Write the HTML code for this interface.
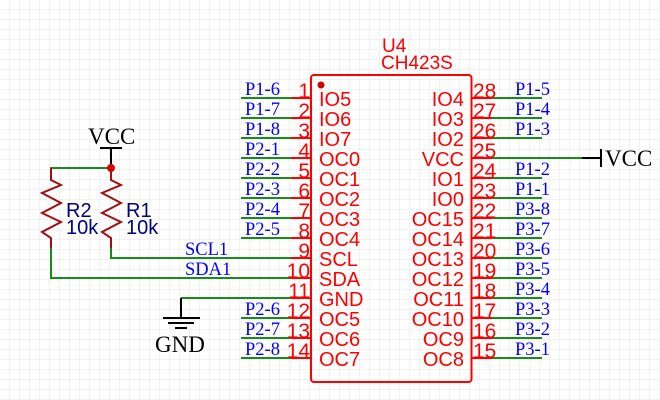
<!DOCTYPE html>
<html><head><meta charset="utf-8"><style>
html,body{margin:0;padding:0;background:#fff;}
svg{display:block;}
</style></head><body>
<svg width="660" height="400" xmlns="http://www.w3.org/2000/svg">
<defs>
<pattern id="g" width="10" height="10" patternUnits="userSpaceOnUse">
<path d="M10 0V10M0 10H10" stroke="#e6e6e6" stroke-width="1" fill="none"/>
</pattern>
</defs>
<rect width="660" height="400" fill="url(#g)"/>
<g font-family="Liberation Sans, sans-serif" fill="#f00">
<text x="382" y="52" font-size="19">U4</text>
<text x="381" y="69" font-size="19">CH423S</text>
</g>
<rect x="311" y="75" width="160.5" height="307" rx="3" fill="none" stroke="#f00" stroke-width="2"/>
<circle cx="321" cy="85" r="3.5" fill="#c00"/>
<g>
<g stroke="#f00" stroke-width="2">
<line x1="291" y1="98" x2="311" y2="98"/><line x1="291" y1="118" x2="311" y2="118"/><line x1="291" y1="138" x2="311" y2="138"/><line x1="291" y1="158" x2="311" y2="158"/><line x1="291" y1="178" x2="311" y2="178"/><line x1="291" y1="198" x2="311" y2="198"/><line x1="291" y1="218" x2="311" y2="218"/><line x1="291" y1="238" x2="311" y2="238"/><line x1="291" y1="258" x2="311" y2="258"/><line x1="291" y1="278" x2="311" y2="278"/><line x1="291" y1="298" x2="311" y2="298"/><line x1="291" y1="318" x2="311" y2="318"/><line x1="291" y1="338" x2="311" y2="338"/><line x1="291" y1="358" x2="311" y2="358"/>
<line x1="471" y1="98" x2="492" y2="98"/><line x1="471" y1="118" x2="492" y2="118"/><line x1="471" y1="138" x2="492" y2="138"/><line x1="471" y1="158" x2="492" y2="158"/><line x1="471" y1="178" x2="492" y2="178"/><line x1="471" y1="198" x2="492" y2="198"/><line x1="471" y1="218" x2="492" y2="218"/><line x1="471" y1="238" x2="492" y2="238"/><line x1="471" y1="258" x2="492" y2="258"/><line x1="471" y1="278" x2="492" y2="278"/><line x1="471" y1="298" x2="492" y2="298"/><line x1="471" y1="318" x2="492" y2="318"/><line x1="471" y1="338" x2="492" y2="338"/><line x1="471" y1="358" x2="492" y2="358"/>
</g>
<g stroke="#1a8a1a" stroke-width="2" fill="none">
<line x1="241" y1="98" x2="291" y2="98"/><line x1="241" y1="118" x2="291" y2="118"/><line x1="241" y1="138" x2="291" y2="138"/><line x1="241" y1="158" x2="291" y2="158"/><line x1="241" y1="178" x2="291" y2="178"/><line x1="241" y1="198" x2="291" y2="198"/><line x1="241" y1="218" x2="291" y2="218"/><line x1="241" y1="238" x2="291" y2="238"/>
<line x1="241" y1="318" x2="291" y2="318"/><line x1="241" y1="338" x2="291" y2="338"/><line x1="241" y1="358" x2="291" y2="358"/>
<polyline points="111,248 111,258 291,258"/>
<polyline points="51,248 51,278 291,278"/>
<polyline points="181,298 291,298"/>
<polyline points="51,180 51,168 111,168"/>
<line x1="492" y1="98" x2="542" y2="98"/><line x1="492" y1="118" x2="542" y2="118"/><line x1="492" y1="138" x2="542" y2="138"/><line x1="492" y1="158" x2="582" y2="158"/><line x1="492" y1="178" x2="542" y2="178"/><line x1="492" y1="198" x2="542" y2="198"/><line x1="492" y1="218" x2="542" y2="218"/><line x1="492" y1="238" x2="542" y2="238"/><line x1="492" y1="258" x2="542" y2="258"/><line x1="492" y1="278" x2="542" y2="278"/><line x1="492" y1="298" x2="542" y2="298"/><line x1="492" y1="318" x2="542" y2="318"/><line x1="492" y1="338" x2="542" y2="338"/><line x1="492" y1="358" x2="542" y2="358"/>
</g>
</g>
<g stroke="#a01010" stroke-width="2" fill="none">
<polyline points="51,168 51,180 61,185 42,193 61,203 42,213 61,222 42,232 51,238 51,248"/>
<polyline points="111,168 111,180 121,185 102,193 121,203 102,213 121,222 102,232 111,238 111,248"/>
</g>
<g font-family="Liberation Sans, sans-serif" font-size="20" fill="#000080">
<text x="66" y="217">R2</text><text x="66" y="234">10k</text>
<text x="126" y="217">R1</text><text x="126" y="234">10k</text>
</g>
<g stroke="#000" stroke-width="2">
<line x1="111" y1="148" x2="111" y2="168"/>
<line x1="100" y1="148" x2="122" y2="148"/>
<line x1="582" y1="158" x2="601" y2="158"/>
<line x1="601" y1="149" x2="601" y2="167"/>
<line x1="181" y1="298" x2="181" y2="318"/>
<line x1="163" y1="318" x2="200" y2="318"/>
<line x1="168" y1="323" x2="194" y2="323"/>
<line x1="175" y1="328" x2="187" y2="328"/>
</g>
<circle cx="111" cy="168" r="4" fill="#d00"/>
<g font-family="Liberation Serif, serif" font-size="23" fill="#000">
<text x="88" y="144">VCC</text>
<text x="605" y="166">VCC</text>
<text x="155" y="352">GND</text>
</g>
<g font-family="Liberation Serif, serif" font-size="18.5" fill="#0000ff">
<text x="245" y="95">P1-6</text><text x="245" y="115">P1-7</text><text x="245" y="135">P1-8</text><text x="245" y="155">P2-1</text><text x="245" y="175">P2-2</text><text x="245" y="195">P2-3</text><text x="245" y="215">P2-4</text><text x="245" y="235">P2-5</text>
<text x="245" y="315">P2-6</text><text x="245" y="335">P2-7</text><text x="245" y="355">P2-8</text>
<text x="185" y="255">SCL1</text><text x="185" y="275">SDA1</text>
<text x="515" y="95">P1-5</text><text x="515" y="115">P1-4</text><text x="515" y="135">P1-3</text><text x="515" y="175">P1-2</text><text x="515" y="195">P1-1</text><text x="515" y="215">P3-8</text><text x="515" y="235">P3-7</text><text x="515" y="255">P3-6</text><text x="515" y="275">P3-5</text><text x="515" y="295">P3-4</text><text x="515" y="315">P3-3</text><text x="515" y="335">P3-2</text><text x="515" y="355">P3-1</text>
</g>
<g font-family="Liberation Sans, sans-serif" font-size="21" fill="#f00" text-anchor="end">
<text x="310" y="98">1</text><text x="310" y="118">2</text><text x="310" y="138">3</text><text x="310" y="158">4</text><text x="310" y="178">5</text><text x="310" y="198">6</text><text x="310" y="218">7</text><text x="310" y="238">8</text><text x="310" y="258">9</text><text x="310" y="278">10</text><text x="310" y="298">11</text><text x="310" y="318">12</text><text x="310" y="338">13</text><text x="310" y="358">14</text>
</g>
<g font-family="Liberation Sans, sans-serif" font-size="21" fill="#f00">
<text x="473" y="98">28</text><text x="473" y="118">27</text><text x="473" y="138">26</text><text x="473" y="158">25</text><text x="473" y="178">24</text><text x="473" y="198">23</text><text x="473" y="218">22</text><text x="473" y="238">21</text><text x="473" y="258">20</text><text x="473" y="278">19</text><text x="473" y="298">18</text><text x="473" y="318">17</text><text x="473" y="338">16</text><text x="473" y="358">15</text>
</g>
<g font-family="Liberation Sans, sans-serif" font-size="20" fill="#f00">
<text x="319" y="106">IO5</text><text x="319" y="126">IO6</text><text x="319" y="146">IO7</text><text x="319" y="166">OC0</text><text x="319" y="186">OC1</text><text x="319" y="206">OC2</text><text x="319" y="226">OC3</text><text x="319" y="246">OC4</text><text x="319" y="266">SCL</text><text x="319" y="286">SDA</text><text x="319" y="306">GND</text><text x="319" y="326">OC5</text><text x="319" y="346">OC6</text><text x="319" y="366">OC7</text>
</g>
<g font-family="Liberation Sans, sans-serif" font-size="20" fill="#f00" text-anchor="end">
<text x="464" y="106">IO4</text><text x="464" y="126">IO3</text><text x="464" y="146">IO2</text><text x="464" y="166">VCC</text><text x="464" y="186">IO1</text><text x="464" y="206">IO0</text><text x="464" y="226">OC15</text><text x="464" y="246">OC14</text><text x="464" y="266">OC13</text><text x="464" y="286">OC12</text><text x="464" y="306">OC11</text><text x="464" y="326">OC10</text><text x="464" y="346">OC9</text><text x="464" y="366">OC8</text>
</g>
</svg>
</body></html>
